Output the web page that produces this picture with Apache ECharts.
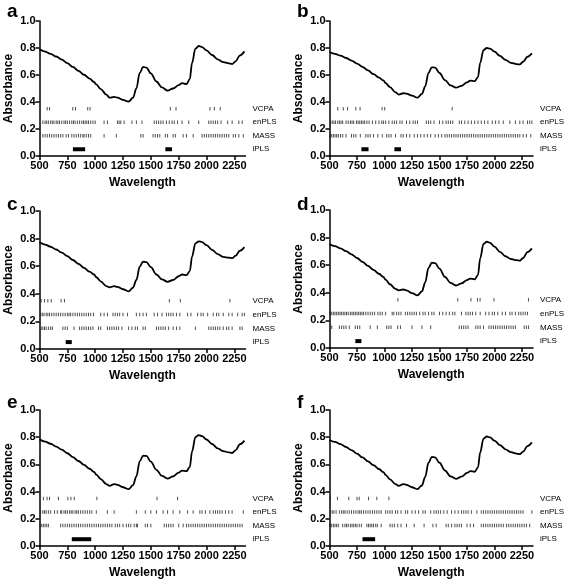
<!DOCTYPE html>
<html><head><meta charset="utf-8">
<script src="https://cdn.jsdelivr.net/npm/echarts@6/dist/echarts.min.js"></script>
<style>html,body{margin:0;padding:0;background:#fff}#c{width:567px;height:581px}</style>
</head><body><div id="c"></div><script>
// ---- data ----
const wavelengths = [500,550,600,650,700,750,800,850,900,950,990,1010,1050,1100,1130,1170,1200,1250,1300,1340,1370,1400,1430,1460,1500,1550,1600,1650,1700,1750,1780,1820,1850,1870,1900,1930,1960,2000,2050,2100,2150,2200,2230,2260,2300,2340];
const specA = [.790,.773,.757,.737,.714,.688,.660,.631,.602,.573,.548,.530,.495,.455,.432,.438,.432,.416,.403,.432,.500,.615,.660,.655,.612,.552,.508,.484,.500,.525,.540,.533,.570,.690,.795,.815,.807,.782,.748,.716,.696,.686,.681,.700,.745,.775];
const specB = [.770,.757,.743,.726,.707,.685,.660,.634,.606,.580,.560,.540,.510,.472,.455,.465,.462,.447,.432,.460,.515,.615,.657,.655,.615,.562,.523,.506,.520,.545,.558,.555,.585,.690,.785,.800,.795,.773,.741,.712,.690,.681,.678,.698,.735,.760];
const specC = [.773,.757,.741,.721,.698,.673,.645,.617,.588,.560,.540,.520,.490,.456,.447,.455,.450,.433,.418,.445,.500,.597,.633,.630,.593,.540,.504,.487,.500,.527,.540,.535,.565,.670,.765,.780,.775,.752,.718,.688,.667,.662,.658,.675,.712,.738];
const specD = [.752,.738,.722,.702,.679,.652,.624,.595,.566,.538,.515,.495,.462,.428,.418,.424,.418,.398,.382,.410,.475,.580,.618,.615,.575,.515,.472,.453,.468,.492,.503,.498,.530,.650,.755,.770,.762,.735,.697,.665,.645,.637,.633,.652,.695,.722];
const specE = [.784,.768,.752,.731,.708,.682,.654,.625,.596,.568,.545,.525,.492,.455,.442,.455,.450,.432,.418,.447,.512,.622,.665,.662,.620,.560,.515,.496,.512,.540,.554,.550,.582,.695,.800,.815,.808,.783,.750,.718,.698,.688,.684,.703,.748,.775];
const specF = [.780,.765,.749,.728,.705,.679,.651,.622,.594,.566,.543,.523,.490,.455,.442,.455,.450,.432,.418,.445,.508,.612,.655,.652,.612,.555,.512,.494,.510,.537,.550,.546,.578,.688,.790,.805,.798,.775,.742,.711,.690,.679,.675,.694,.735,.762];

const vcpaA = [569,590,799,823,933,954,1675,1726,2031,2070,2123];
const enplsA = [530,550,565,580,600,615,630,650,665,680,700,720,735,750,770,790,805,820,840,860,880,895,910,925,940,960,980,1000,1080,1110,1200,1215,1230,1260,1330,1370,1420,1530,1550,1570,1590,1610,1640,1665,1690,1710,1740,1780,1840,1930,2020,2040,2060,2080,2100,2130,2190,2230,2290,2320];
const massA = [530,550,570,590,610,630,650,670,690,710,740,760,790,810,830,850,870,890,900,920,940,960,1080,1190,1410,1430,1520,1540,1560,1580,1630,1650,1700,1720,1790,1820,1880,1960,1980,2000,2020,2040,2060,2080,2100,2120,2140,2160,2180,2200,2240,2260,2290,2330];
const iplsA = [[800,910],[1630,1690]];

const vcpaB = [575,625,664,739,778,978,1002,1615];
const enplsB = [510,525,540,555,575,590,605,620,650,670,690,705,720,745,760,775,790,805,820,840,860,890,920,950,975,990,1010,1040,1070,1090,1110,1140,1160,1200,1230,1260,1280,1300,1380,1400,1420,1450,1500,1530,1560,1580,1600,1620,1680,1700,1730,1760,1790,1820,1850,1880,1910,1940,1980,2010,2040,2080,2140,2190,2230,2260,2300,2320,2340];
const massB = [505,520,535,550,565,580,600,620,650,700,720,740,780,830,850,870,900,940,980,1020,1040,1060,1100,1150,1170,1200,1230,1270,1300,1330,1360,1390,1420,1460,1490,1520,1550,1570,1590,1610,1630,1650,1670,1690,1710,1730,1750,1770,1790,1810,1830,1850,1870,1890,1910,1930,1950,1970,1990,2010,2030,2050,2070,2090,2110,2130,2150,2170,2190,2210,2230,2260,2290,2330];
const iplsB = [[790,855],[1090,1150]];

const vcpaC = [515,545,575,605,694,724,1666,1765,2210];
const enplsC = [510,525,540,560,575,590,610,630,650,670,690,710,730,750,765,780,800,820,840,860,880,900,920,940,960,985,1050,1080,1110,1160,1180,1200,1220,1250,1290,1370,1400,1430,1460,1530,1560,1600,1640,1660,1680,1700,1730,1760,1830,1860,1920,1950,1970,2010,2060,2090,2110,2150,2200,2230,2280,2320,2340];
const massC = [515,530,545,560,580,600,615,710,730,750,810,860,880,900,920,940,960,980,1030,1050,1110,1130,1150,1170,1190,1210,1240,1300,1330,1360,1380,1430,1450,1550,1570,1590,1610,1630,1660,1700,1730,1760,1900,2020,2040,2060,2080,2100,2120,2150,2180,2200,2230,2300,2320];
const iplsC = [[735,790]];

const vcpaD = [1122,1666,1786,1845,1869,1995,2309];
const enplsD = [505,520,535,550,565,580,595,610,625,640,655,670,690,705,720,735,750,765,780,795,810,830,850,870,890,910,940,960,980,1010,1070,1085,1110,1130,1150,1190,1210,1230,1250,1270,1290,1320,1350,1370,1400,1430,1450,1500,1530,1560,1590,1620,1640,1700,1740,1760,1780,1800,1830,1870,1920,1950,1980,2000,2030,2070,2100,2140,2160,2190,2220,2240,2260,2280,2300];
const massD = [520,590,610,630,650,680,735,755,775,870,935,1020,1040,1060,1120,1145,1250,1340,1420,1680,1700,1720,1740,1760,1830,1850,1870,1900,1950,1970,1990,2010,2030,2050,2070,2090,2110,2130,2150,2170,2190,2270,2290,2310];
const iplsD = [[735,790]];

const vcpaE = [535,568,590,670,755,782,812,1015,1555,1740];
const enplsE = [510,530,545,560,580,600,635,660,690,700,720,735,750,770,785,800,820,835,850,870,890,910,930,950,970,1010,1110,1170,1370,1450,1500,1550,1610,1650,1700,1760,1830,1880,1940,1960,1990,2030,2060,2080,2100,2120,2140,2170,2200,2230,2330];
const massE = [505,520,535,550,565,580,690,710,730,750,770,790,810,830,850,870,890,910,930,950,970,990,1010,1030,1050,1070,1090,1110,1130,1150,1180,1200,1220,1250,1280,1300,1320,1350,1370,1380,1450,1470,1500,1620,1640,1660,1680,1700,1750,1790,1820,1840,1860,1880,1900,1920,1940,1960,1980,2000,2020,2040,2060,2080,2100,2120,2140,2160,2180,2200,2220,2240,2260,2280,2300,2320];
const iplsE = [[790,965]];

const vcpaF = [508,572,675,750,770,855,930,1040];
const enplsF = [510,525,540,560,590,610,625,640,660,680,700,720,740,760,775,790,810,830,850,870,890,910,930,950,970,1010,1030,1050,1070,1100,1120,1150,1190,1210,1250,1280,1310,1350,1370,1420,1450,1470,1490,1510,1540,1570,1610,1640,1670,1700,1720,1740,1760,1790,1840,1880,1900,1920,1940,1960,1980,2000,2020,2040,2060,2080,2100,2120,2140,2160,2180,2200,2220,2240,2260,2340];
const massF = [505,520,535,550,565,580,620,640,655,670,690,705,720,735,750,770,790,840,855,870,885,900,920,935,970,1050,1070,1090,1120,1150,1200,1270,1360,1440,1470,1560,1580,1610,1640,1660,1680,1700,1750,1780,1810,1880,1900,1920,1940,1960,1980,2000,2020,2040,2060,2080,2110,2130,2150,2170,2190,2210,2230,2250,2270,2290,2320];
const iplsF = [[800,915]];

const panelLetters = ['a','b','c','d','e','f'];
const trackNames = ['VCPA','enPLS','MASS','iPLS'];
const trackLevels = [0.35,0.25,0.15,0.05];
const xTickValues = [500,750,1000,1250,1500,1750,2000,2250];
const xTitle = 'Wavelength';
const yTitle = 'Absorbance';

const panels = [
  {spec:specA, vcpa:vcpaA, enpls:enplsA, mass:massA, ipls:iplsA},
  {spec:specB, vcpa:vcpaB, enpls:enplsB, mass:massB, ipls:iplsB},
  {spec:specC, vcpa:vcpaC, enpls:enplsC, mass:massC, ipls:iplsC},
  {spec:specD, vcpa:vcpaD, enpls:enplsD, mass:massD, ipls:iplsD},
  {spec:specE, vcpa:vcpaE, enpls:enplsE, mass:massE, ipls:iplsE},
  {spec:specF, vcpa:vcpaF, enpls:enplsF, mass:massF, ipls:iplsF}
];

// ---- layout ----
const layout = [
  {left:39.5, top:21,  height:135, letterLeft:2,   letterTop:-3},
  {left:329.5,top:21,  height:135, letterLeft:292, letterTop:-3},
  {left:39.5, top:211, height:138, letterLeft:2,   letterTop:190},
  {left:329.5,top:210, height:138, letterLeft:292, letterTop:190},
  {left:39.5, top:410, height:136, letterLeft:2,   letterTop:388},
  {left:329.5,top:410, height:136, letterLeft:292, letterTop:388}
];
const FONT = '"Liberation Sans", Arial, sans-serif';

const option = {animation:false, backgroundColor:'#fff', grid:[], xAxis:[], yAxis:[], series:[], title:[]};

panels.forEach((p, i) => {
  const L = layout[i];
  option.grid.push({left:L.left, top:L.top, width:206, height:L.height, containLabel:false});
  option.title.push({text:panelLetters[i], left:L.letterLeft, top:L.letterTop,
    textStyle:{fontFamily:FONT, fontSize:19, fontWeight:'bold', color:'#000'}});
  option.xAxis.push({type:'value', gridIndex:i, min:500, max:2350,
    axisLine:{lineStyle:{color:'#000', width:1.5}},
    axisTick:{customValues:xTickValues, length:4, lineStyle:{color:'#000', width:1.5}},
    axisLabel:{customValues:xTickValues, color:'#000', fontFamily:FONT, fontSize:11, fontWeight:'bold', margin:4,
      formatter:v => String(Math.round(v))},
    splitLine:{show:false},
    name:xTitle, nameLocation:'middle', nameGap:21,
    nameTextStyle:{color:'#000', fontFamily:FONT, fontSize:12, fontWeight:'bold'}});
  option.yAxis.push({type:'value', gridIndex:i, min:0, max:1, interval:0.2,
    axisLine:{show:true, lineStyle:{color:'#000', width:1.5}},
    axisTick:{show:true, length:4, lineStyle:{color:'#000', width:1.5}},
    axisLabel:{color:'#000', fontFamily:FONT, fontSize:11, fontWeight:'bold', margin:4,
      formatter:v => v.toFixed(1)},
    splitLine:{show:false},
    name:yTitle, nameLocation:'middle', nameGap:25,
    nameTextStyle:{color:'#000', fontFamily:FONT, fontSize:12, fontWeight:'bold'}});
  option.yAxis.push({type:'value', gridIndex:i, min:0, max:1, position:'right',
    axisLine:{show:false}, axisTick:{show:false}, splitLine:{show:false},
    axisLabel:{customValues:trackLevels, color:'#000', fontFamily:FONT, fontSize:8, margin:7,
      formatter:v => { const k = trackLevels.findIndex(l => Math.abs(l - v) < 1e-6); return k >= 0 ? trackNames[k] : ''; }}});

  const yIdx = 2*i;
  option.series.push({type:'line', xAxisIndex:i, yAxisIndex:yIdx, symbol:'none',
    smooth:0.35, smoothMonotone:'x',
    lineStyle:{color:'#000', width:1.8},
    data:wavelengths.map((w,k)=>[w, p.spec[k]])});
  [p.vcpa, p.enpls, p.mass].forEach((arr, t) => {
    option.series.push({type:'scatter', xAxisIndex:i, yAxisIndex:yIdx, symbol:'rect',
      symbolSize:[1, 3.5], itemStyle:{color:'#222'}, silent:true,
      data:arr.map(w => [w, trackLevels[t]])});
  });
  option.series.push({type:'custom', xAxisIndex:i, yAxisIndex:yIdx,
    data:p.ipls.map(r => [r[0], r[1], trackLevels[3]]),
    renderItem:(params, api) => {
      const a = api.coord([api.value(0), api.value(2)]);
      const b = api.coord([api.value(1), api.value(2)]);
      return {type:'rect', shape:{x:a[0], y:a[1]-2, width:b[0]-a[0], height:4}, style:{fill:'#000'}};
    }});
});

const chart = echarts.init(document.getElementById('c'), null, {renderer:'canvas'});
chart.setOption(option);
</script></body></html>
